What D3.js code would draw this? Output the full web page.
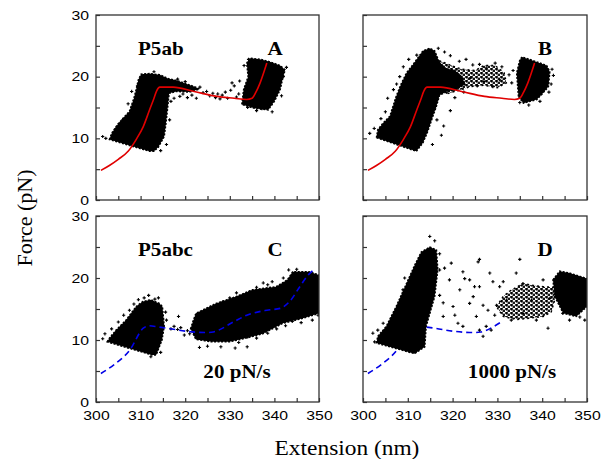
<!DOCTYPE html>
<html>
<head>
<meta charset="utf-8">
<script src="https://cdn.jsdelivr.net/npm/d3@7"></script>
<style>
  body { margin: 0; background: #fff; }
</style>
</head>
<body>
<svg id="chart" width="613" height="459"></svg>
<script>
// ---- data (extension nm, force pN) ----
const xTickValues = [300, 305, 310, 315, 320, 325, 330, 335, 340, 345, 350];
const yTickValues = [0, 5, 10, 15, 20, 25, 30];

// model fits
const redFit = [[301.1,4.8],[303,5.6],[305,6.6],[307.2,7.9],[309,9.8],[310.6,11.9],[312,14.6],[312.9,16.3],[313.6,17.7],[314.3,18.3],[317.3,18.3],[322,17.6],[327.1,16.8],[331,16.5],[333.8,16.3],[335.0,16.5],[335.8,17.4],[336.8,19.0],[338.3,22.2]];
const blueFit = [[301.1,4.6],[304,6.0],[307.6,8.4],[310.6,11.9],[311.8,12.3],[314,12.1],[316,11.9],[320.3,11.4],[324.8,11.2],[326.3,11.3],[330.8,12.9],[333.8,14.0],[338.3,14.8],[341.3,15.1],[343.4,16.2],[345.7,18.6],[347.6,20.5],[348.6,21.2]];

// dense data clouds (outlines)
const cloudA1 = [[303.0,9.8],[303.5,10.8],[304.5,11.9],[306.0,13.2],[307.5,14.4],[308.5,16.5],[309.0,17.9],[309.5,19.5],[310.1,20.4],[312.0,20.5],[314.3,20.3],[315.3,20.0],[316.1,19.7],[318.0,19.4],[320.0,18.9],[322.0,18.4],[323.2,18.0],[321.0,17.5],[318.0,17.6],[316.4,17.3],[316.1,15.2],[315.7,12.5],[315.3,10.3],[314.0,8.6],[313.0,7.9],[312.0,7.9]];
const cloudA2 = [[332.7,15.5],[333.1,17.9],[334.1,20.0],[333.8,22.2],[334.5,23.0],[337.0,22.8],[339.0,22.4],[341.3,21.8],[342.4,21.1],[341.8,19.5],[341.3,17.9],[340.0,16.0],[338.6,14.6],[335.3,14.9]];
const cloudB1 = [[303.0,10.1],[303.3,11.4],[304.5,12.5],[306.0,13.6],[307.4,16.8],[308.5,18.8],[309.7,20.6],[311.2,22.0],[313.4,24.2],[314.9,24.6],[316.0,24.2],[317.1,22.2],[318.5,21.3],[320.5,21.0],[322.0,20.0],[322.8,18.8],[321.0,18.0],[318.5,17.5],[317.1,17.0],[316.3,15.0],[315.6,13.6],[314.5,11.2],[313.4,9.3],[311.9,7.9]];
const cloudB2 = [[334.7,16.8],[334.3,20.6],[335.0,22.7],[335.5,23.2],[338.0,22.6],[341.0,21.8],[341.7,20.8],[341.4,18.4],[340.0,17.2],[338.8,16.3],[335.8,15.7]];
const cloudC1 = [[302.5,9.7],[303.0,10.3],[304.5,11.6],[306.7,13.2],[309.0,15.4],[310.5,16.2],[312.3,16.5],[314.2,15.9],[314.9,15.4],[315.3,12.2],[314.8,10.0],[313.5,7.6],[312.5,7.6]];
const cloudC2 = [[321.2,11.8],[321.7,12.9],[322.4,14.3],[326.9,15.9],[331.4,17.0],[335.1,18.1],[340.4,18.6],[342.9,19.7],[344.1,21.0],[347.8,21.0],[350.0,20.5],[350.0,14.3],[346.4,13.5],[341.9,12.7],[337.4,11.0],[333.0,10.2],[329.9,9.7],[326.0,9.7],[322.4,10.1]];
const cloudD1 = [[303.0,9.5],[303.3,10.6],[305.2,12.2],[307.4,15.4],[309.7,19.1],[311.5,22.0],[313.0,24.2],[314.9,25.0],[316.4,24.5],[316.7,21.3],[316.0,17.0],[314.1,12.2],[313.8,8.9],[311.5,7.8]];
const cloudD3 = [[342.4,19.7],[343.9,21.1],[346.1,20.8],[350.0,19.9],[350.0,15.4],[347.6,13.8],[344.7,14.3],[342.8,17.0]];

// looser clouds
const fanB = [[317.0,22.6],[319.0,22.0],[322.0,21.2],[325.0,21.0],[327.0,21.8],[329.5,21.8],[331.5,20.6],[332.0,19.0],[330.0,18.2],[327.0,18.6],[324.0,18.4],[321.5,17.8],[318.5,17.2]];
const cloudD2 = [[329.8,15.4],[331.3,17.0],[333.0,18.0],[335.7,19.1],[338.0,18.8],[340.2,18.6],[342.5,18.5],[342.8,16.5],[342.0,14.5],[340.2,13.8],[337.0,13.5],[334.2,13.3],[331.3,13.8]];

// individual points outside the clouds
const pointsA = [[301.5,10.3],[302.2,10.0],[304.5,11.5],[305.2,12.4],[306.0,13.0],[307.2,15.6],[308.0,17.6],[309.3,18.5],[313.0,20.8],[316.8,16.0],[316.5,13.0],[315.8,9.0],[314.5,8.0],[317.5,16.5],[318.8,16.8],[319.5,17.2],[320.5,16.6],[321.5,17.0],[323.3,18.3],[324.0,17.4],[324.8,17.6],[325.5,16.9],[326.2,17.3],[326.8,16.6],[327.3,17.2],[327.8,16.4],[328.3,17.0],[329.0,17.5],[329.5,16.5],[330.2,17.8],[331.0,18.5],[331.5,16.7],[332.0,17.2],[330.5,19.0],[332.2,19.3],[333.2,21.8],[334.2,22.8],[342.7,21.5],[342.0,20.0],[341.6,16.9],[339.5,14.3],[337.2,14.8],[336.0,14.5],[334.0,15.0],[322.5,16.5],[320.0,19.2],[318.3,19.6]];
const pointsB = [[301.5,10.8],[302.5,11.6],[304.0,13.2],[305.0,14.3],[305.5,16.5],[306.8,17.9],[307.5,18.8],[308.2,20.0],[309.0,21.6],[310.2,22.8],[312.0,23.5],[316.8,24.6],[318.2,24.0],[319.5,23.4],[321.5,22.5],[323.0,22.8],[324.5,21.9],[326.0,22.0],[327.5,21.4],[329.5,22.2],[331.0,21.6],[332.6,20.3],[333.2,19.0],[333.5,21.0],[330.5,19.5],[329.0,18.4],[327.0,19.2],[325.5,18.5],[324.0,19.8],[322.5,17.5],[320.5,16.6],[319.5,14.5],[318.0,12.0],[316.5,13.0],[317.5,10.5],[315.5,9.0],[342.2,21.2],[342.5,20.2],[342.0,18.8],[341.5,17.5],[339.5,16.0],[337.0,15.4],[335.0,15.8]];
const pointsC = [[301.5,10.2],[302.0,11.0],[303.5,11.8],[305.0,12.9],[306.2,14.0],[307.5,14.8],[308.5,15.8],[309.5,16.5],[310.8,16.8],[311.8,17.2],[313.2,16.6],[314.0,16.8],[315.6,14.5],[315.8,13.2],[314.5,8.0],[312.3,7.3],[316.8,11.8],[317.5,12.2],[318.3,11.7],[319.0,12.0],[319.8,10.8],[320.5,11.5],[321.0,11.0],[318.5,13.8],[323.2,8.8],[325.0,9.0],[327.0,15.6],[328.5,16.2],[330.0,16.8],[331.5,17.6],[333.0,17.2],[334.5,17.8],[336.0,18.5],[337.5,19.2],[338.5,18.9],[339.5,19.4],[332.0,9.6],[334.0,10.5],[336.0,10.3],[338.5,11.1],[340.5,11.8],[342.5,12.3],[344.0,13.0],[346.0,12.8],[348.5,13.2],[349.8,14.0],[342.0,20.0],[343.2,21.3],[345.0,21.4],[331.2,8.7],[328.0,8.9],[333.9,8.9]];
const pointsD = [[302.2,11.1],[302.6,9.7],[303.3,11.6],[304.5,12.7],[308.9,18.1],[309.3,20.0],[314.9,26.7],[316.0,26.0],[317.1,21.3],[317.1,23.9],[317.9,13.8],[317.9,16.0],[317.1,17.2],[318.2,21.6],[319.3,19.7],[319.7,22.4],[320.1,15.4],[320.5,14.0],[321.2,12.7],[321.6,18.1],[322.3,21.0],[322.3,12.2],[322.7,19.9],[323.8,19.7],[323.8,15.9],[324.6,17.0],[324.9,18.6],[325.3,13.8],[325.7,22.6],[326.0,23.0],[326.0,18.6],[326.0,11.6],[326.8,15.6],[326.8,10.6],[327.5,12.2],[327.9,14.8],[328.3,20.8],[328.6,11.6],[329.0,19.4],[329.4,14.0],[329.8,15.6],[330.5,18.6],[331.3,19.4],[332.0,16.4],[333.1,13.2],[334.2,20.8],[335.0,23.0],[335.7,19.1],[335.7,14.3],[337.6,16.4],[338.7,13.2],[340.2,19.7],[341.3,11.9],[341.7,16.7],[344.6,14.3],[346.1,13.2],[348.4,13.7],[349.5,13.2]];

// ---- layout ----
const svg = d3.select("#chart");
const stretch = 1.17;
const cells = {
  A: {x0: 96, x1: 319, y0: 15, y1: 200},
  B: {x0: 363, x1: 587, y0: 15, y1: 200},
  C: {x0: 96, x1: 319, y0: 216, y1: 402},
  D: {x0: 363, x1: 587, y0: 216, y1: 402}
};

const panels = [
  {id: "A", dense: [cloudA1, cloudA2], loose: [], pts: pointsA, fit: redFit, fitMax: 350, color: "#e00000", dashed: false, curveOnTop: true, yLabels: true, xLabels: false,
   notes: [["P5ab", 138, 55, "start"], ["A", 275, 55, "middle"]]},
  {id: "B", dense: [cloudB1, cloudB2], loose: [fanB], pts: pointsB, fit: redFit, fitMax: 350, color: "#e00000", dashed: false, curveOnTop: true, yLabels: false, xLabels: false,
   notes: [["B", 545, 55, "middle"]]},
  {id: "C", dense: [cloudC1, cloudC2], loose: [], pts: pointsC, fit: blueFit, fitMax: 350, color: "#0000e6", dashed: true, curveOnTop: true, yLabels: true, xLabels: true,
   notes: [["P5abc", 138, 256, "start"], ["C", 275, 256, "middle"], ["20 pN/s", 237, 378, "middle"]]},
  {id: "D", dense: [cloudD1, cloudD3], loose: [cloudD2], pts: pointsD, fit: blueFit, fitMax: 332, color: "#0000e6", dashed: true, curveOnTop: false, yLabels: false, xLabels: true,
   notes: [["D", 545, 256, "middle"], ["1000 pN/s", 512, 378, "middle"]]}
];

const cross = "M-1.6,0H1.6M0,-1.6V1.6";

// texture for the looser parts of the clouds
const pat = svg.append("defs").append("pattern")
  .attr("id", "dots").attr("patternUnits", "userSpaceOnUse")
  .attr("width", 5).attr("height", 4);
pat.append("path").attr("d", "M0,1H3M1.5,-0.5V2.5M2.5,3H5.5M4,1.5V4.5")
  .attr("stroke", "#000").attr("stroke-width", 1.3);

panels.forEach(p => {
  const c = cells[p.id];
  const x = d3.scaleLinear().domain([300, 350]).range([c.x0, c.x1]);
  const y = d3.scaleLinear().domain([0, 30]).range([c.y1, c.y0]);
  const g = svg.append("g");

  const clipId = "clip" + p.id;
  svg.append("clipPath").attr("id", clipId)
    .append("rect").attr("x", c.x0).attr("y", c.y0)
    .attr("width", c.x1 - c.x0).attr("height", c.y1 - c.y0);
  const plot = g.append("g").attr("clip-path", `url(#${clipId})`);

  const area = d3.line().x(d => x(d[0])).y(d => y(d[1])).curve(d3.curveLinearClosed);
  const fitLine = d3.line().x(d => x(d[0])).y(d => y(d[1])).curve(d3.curveMonotoneX);

  const drawFit = () => plot.append("path")
    .attr("d", fitLine(p.fit.filter(d => d[0] <= p.fitMax)))
    .attr("fill", "none")
    .attr("stroke", p.color)
    .attr("stroke-width", 1.6)
    .attr("stroke-dasharray", p.dashed ? "6,4" : null);

  if (!p.curveOnTop) drawFit();

  plot.selectAll("path.loose").data(p.loose).join("path")
    .attr("class", "loose")
    .attr("d", area)
    .attr("fill", "url(#dots)")
    .attr("stroke", "#000")
    .attr("stroke-width", 1.5)
    .attr("stroke-dasharray", "2,3");

  plot.selectAll("path.dense").data(p.dense).join("path")
    .attr("class", "dense")
    .attr("d", area)
    .attr("fill", "#000")
    .attr("stroke", "#000")
    .attr("stroke-width", 1.5)
    .attr("stroke-dasharray", "2,1.5");

  plot.selectAll("path.pt").data(p.pts).join("path")
    .attr("class", "pt")
    .attr("transform", d => `translate(${x(d[0])},${y(d[1])})`)
    .attr("d", cross)
    .attr("stroke", "#000")
    .attr("stroke-width", 1.1);

  if (p.curveOnTop) drawFit();

  // axes with inward ticks
  const xAxis = d3.axisBottom(x).tickValues(xTickValues)
    .tickSizeInner(-4).tickSizeOuter(0).tickPadding(8)
    .tickFormat(d => (p.xLabels && d % 10 === 0) ? d : "");
  const yAxis = d3.axisLeft(y).tickValues(yTickValues)
    .tickSizeInner(-4).tickSizeOuter(0).tickPadding(7)
    .tickFormat(d => (p.yLabels && d % 10 === 0) ? d : "");

  const gx = g.append("g").attr("transform", `translate(0,${c.y1})`).call(xAxis);
  const gy = g.append("g").attr("transform", `translate(${c.x0},0)`).call(yAxis);
  [gx, gy].forEach(a => {
    a.select(".domain").remove();
    a.selectAll(".tick line").attr("stroke", "#333").attr("stroke-width", 1.2);
    a.selectAll(".tick text")
      .attr("font-family", "'Liberation Sans', Arial, sans-serif")
      .attr("font-size", 13.5)
      .attr("fill", "#000");
  });
  gy.selectAll(".tick text").attr("x", -7 / stretch).attr("transform", `scale(${stretch},1)`);
  gx.selectAll(".tick text").attr("transform", `scale(${stretch},1)`);

  g.append("rect")
    .attr("x", c.x0).attr("y", c.y0)
    .attr("width", c.x1 - c.x0).attr("height", c.y1 - c.y0)
    .attr("fill", "none").attr("stroke", "#333").attr("stroke-width", 1.3);

  g.selectAll("text.note").data(p.notes).join("text")
    .attr("class", "note")
    .attr("transform", d => `translate(${d[1]},${d[2]}) scale(${stretch},1)`)
    .attr("text-anchor", d => d[3])
    .attr("font-family", "'Liberation Serif', 'Times New Roman', serif")
    .attr("font-weight", "bold")
    .attr("font-size", 18)
    .text(d => d[0]);
});

// axis titles
svg.append("text")
  .attr("transform", `translate(347,455) scale(${stretch},1)`)
  .attr("text-anchor", "middle")
  .attr("font-family", "'Liberation Serif', 'Times New Roman', serif")
  .attr("font-size", 20)
  .text("Extension (nm)");

svg.append("text")
  .attr("transform", "translate(32,218) rotate(-90)")
  .attr("text-anchor", "middle")
  .attr("font-family", "'Liberation Serif', 'Times New Roman', serif")
  .attr("font-size", 22)
  .text("Force (pN)");
</script>
</body>
</html>
